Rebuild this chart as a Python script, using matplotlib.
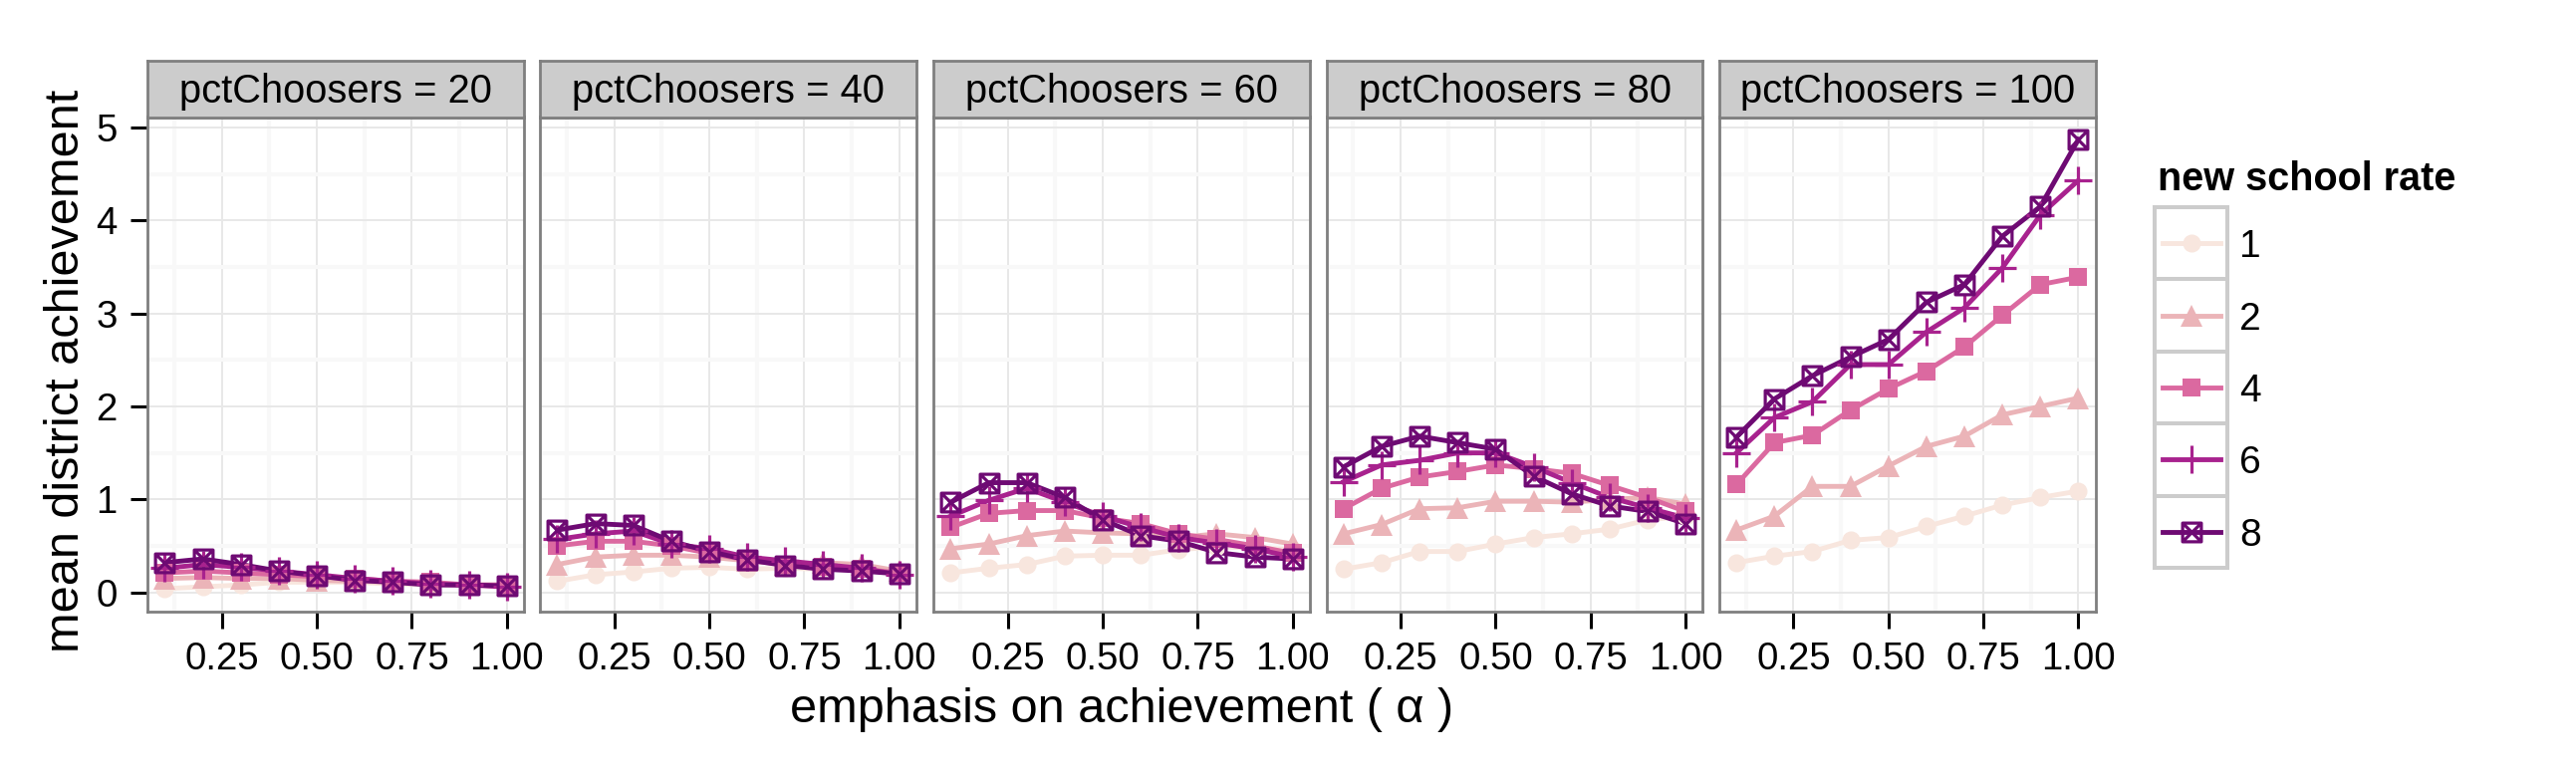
import matplotlib
matplotlib.use("Agg")
import matplotlib.pyplot as plt
from matplotlib.path import Path
from matplotlib.patches import Rectangle
from matplotlib.lines import Line2D
import numpy as np

plt.rcParams['font.family'] = ['Liberation Sans', 'DejaVu Sans']

# ---------------- data ----------------
alpha = [0.1, 0.2, 0.3, 0.4, 0.5, 0.6, 0.7, 0.8, 0.9, 1.0]
pct_choosers = [20, 40, 60, 80, 100]
rates = [1, 2, 4, 6, 8]

ach_pct20 = {
    1: [0.04, 0.06, 0.08, 0.11, 0.11, 0.11, 0.09, 0.08, 0.08, 0.06],
    2: [0.15, 0.16, 0.15, 0.15, 0.13, 0.12, 0.11, 0.09, 0.08, 0.08],
    4: [0.21, 0.23, 0.21, 0.19, 0.17, 0.15, 0.12, 0.11, 0.08, 0.08],
    6: [0.26, 0.30, 0.27, 0.23, 0.19, 0.15, 0.12, 0.09, 0.08, 0.06],
    8: [0.32, 0.36, 0.30, 0.23, 0.18, 0.13, 0.11, 0.08, 0.08, 0.07],
}
ach_pct40 = {
    1: [0.12, 0.19, 0.22, 0.26, 0.27, 0.25, 0.26, 0.25, 0.25, 0.21],
    2: [0.30, 0.38, 0.40, 0.40, 0.38, 0.34, 0.30, 0.32, 0.30, 0.23],
    4: [0.50, 0.55, 0.55, 0.50, 0.42, 0.35, 0.30, 0.27, 0.25, 0.21],
    6: [0.57, 0.63, 0.66, 0.52, 0.47, 0.38, 0.34, 0.30, 0.26, 0.19],
    8: [0.67, 0.74, 0.72, 0.55, 0.44, 0.35, 0.29, 0.25, 0.23, 0.20],
}
ach_pct60 = {
    1: [0.21, 0.26, 0.30, 0.39, 0.40, 0.40, 0.46, 0.49, 0.48, 0.46],
    2: [0.47, 0.52, 0.61, 0.66, 0.64, 0.63, 0.59, 0.63, 0.59, 0.52],
    4: [0.70, 0.85, 0.88, 0.88, 0.80, 0.74, 0.63, 0.57, 0.50, 0.42],
    6: [0.82, 0.99, 1.12, 0.97, 0.82, 0.70, 0.59, 0.53, 0.47, 0.38],
    8: [0.97, 1.18, 1.18, 1.02, 0.78, 0.61, 0.55, 0.43, 0.38, 0.36],
}
ach_pct80 = {
    1: [0.25, 0.32, 0.44, 0.44, 0.52, 0.59, 0.63, 0.68, 0.78, 0.82],
    2: [0.63, 0.73, 0.90, 0.91, 0.98, 0.98, 0.97, 1.00, 1.02, 0.95],
    4: [0.90, 1.12, 1.24, 1.30, 1.37, 1.33, 1.28, 1.15, 1.02, 0.87],
    6: [1.19, 1.37, 1.42, 1.50, 1.50, 1.35, 1.18, 1.02, 0.91, 0.80],
    8: [1.35, 1.57, 1.68, 1.61, 1.54, 1.25, 1.06, 0.93, 0.87, 0.74],
}
ach_pct100 = {
    1: [0.32, 0.39, 0.44, 0.56, 0.59, 0.71, 0.82, 0.94, 1.02, 1.09],
    2: [0.67, 0.82, 1.14, 1.14, 1.36, 1.57, 1.68, 1.91, 2.00, 2.09],
    4: [1.16, 1.61, 1.69, 1.96, 2.19, 2.38, 2.64, 2.98, 3.31, 3.39],
    6: [1.50, 1.88, 2.05, 2.45, 2.45, 2.80, 3.06, 3.49, 4.06, 4.43],
    8: [1.67, 2.08, 2.33, 2.53, 2.72, 3.12, 3.31, 3.83, 4.15, 4.87],
}
panel_data = [ach_pct20, ach_pct40, ach_pct60, ach_pct80, ach_pct100]

x_ticks = [0.25, 0.50, 0.75, 1.00]
x_tick_labels = ["0.25", "0.50", "0.75", "1.00"]
y_ticks = [0, 1, 2, 3, 4, 5]

# ---------------- styles ----------------
colors = {1: '#F8E6DE', 2: '#EBB4B8', 4: '#DB69A0', 6: '#A8228E', 8: '#6E0A73'}
boxx = Path([(-1, -1), (1, -1), (1, 1), (-1, 1), (-1, -1),
             (-1, -1), (1, 1), (-1, 1), (1, -1)],
            [Path.MOVETO, Path.LINETO, Path.LINETO, Path.LINETO, Path.CLOSEPOLY,
             Path.MOVETO, Path.LINETO, Path.MOVETO, Path.LINETO])
mstyle = {
    1: dict(marker='o', ms=13.0, mew=0),
    2: dict(marker='^', ms=16, mew=0),
    4: dict(marker='s', ms=12.5, mew=0),
    6: dict(marker='+', ms=19.5, mew=2.3),
    8: dict(marker=boxx, ms=13.5, mew=2.3, mfc='none'),
}
LW = 3.5

W, H = 2586, 780
fig = plt.figure(figsize=(W / 100, H / 100), dpi=100)


def px_axes(l, t, r, b):
    return fig.add_axes([l / W, 1 - b / H, (r - l) / W, (b - t) / H])


lefts = [148.3, 542.3, 937.3, 1331.7, 1726.0]
pw = 377.6
ptop, pbot = 117.5, 613.5
stop = 61.0

all_vals = np.concatenate([np.array(d[r]) for d in panel_data for r in rates])
ylo, yhi = all_vals.min(), all_vals.max()
ypad = 0.05 * (yhi - ylo)
xlo, xhi = min(alpha), max(alpha)
xpad = 0.05 * (xhi - xlo)

for i, (pct, d) in enumerate(zip(pct_choosers, panel_data)):
    l = lefts[i]
    ax = px_axes(l, ptop, l + pw, pbot)
    ax.set_xlim(xlo - xpad, xhi + xpad)
    ax.set_ylim(ylo - ypad, yhi + ypad)
    ax.set_xticks(x_ticks)
    ax.set_xticklabels(x_tick_labels)
    ax.set_xticks([0.125, 0.375, 0.625, 0.875], minor=True)
    ax.set_yticks(y_ticks)
    ax.set_yticks([0.5, 1.5, 2.5, 3.5, 4.5], minor=True)
    ax.grid(which='major', color='#E8E8E8', lw=1.4)
    ax.grid(which='minor', color='#F8F8F8', lw=2.9)
    ax.set_axisbelow(True)
    ax.tick_params(which='major', length=12.5, width=2.2, color='black',
                   labelsize=27.6, pad=9.5)
    ax.tick_params(which='minor', length=0)
    if i > 0:
        ax.tick_params(axis='y', which='both', left=False, labelleft=False)
    for s in ax.spines.values():
        s.set_color('#7F7F7F')
        s.set_linewidth(2.0)
        s.set_zorder(5)
    for r in rates:
        ax.plot(alpha, d[r], color=colors[r], lw=LW, zorder=2,
                solid_joinstyle='round')
    for r in rates:
        st = dict(mstyle[r])
        ax.plot(alpha, d[r], ls='none', color=colors[r], mec=colors[r],
                zorder=3, **st)

    sax = px_axes(l, stop, l + pw, ptop)
    sax.set_facecolor('#CCCCCC')
    sax.set_xticks([])
    sax.set_yticks([])
    for s in sax.spines.values():
        s.set_color('#7F7F7F')
        s.set_linewidth(2.0)
    sax.text(0.5, 0.25, f"pctChoosers = {pct}", ha='center', va='baseline',
             fontsize=28.7, transform=sax.transAxes)

# axis titles
fig.text(67 / W, 1 - 372 / H, "mean district achievement", rotation=90,
         ha='center', va='center', fontsize=35)
fig.text(1126 / W, 1 - 725 / H, "emphasis on achievement ( \u03b1 )",
         ha='center', va='baseline', fontsize=35)

# legend (drawn in pixel coordinates)
lax = fig.add_axes([0, 0, 1, 1])
lax.set_xlim(0, W)
lax.set_ylim(H, 0)
lax.axis('off')
lax.text(2166, 191, "new school rate", fontsize=28.5, fontweight='bold',
         ha='left', va='baseline')
key_top, key_h = 208.0, 72.4
kx0, kx1 = 2163, 2236
for j, r in enumerate(rates):
    y0 = key_top + j * key_h
    lax.add_patch(Rectangle((kx0, y0), kx1 - kx0, key_h, facecolor='white',
                            edgecolor='#CCCCCC', lw=2.9, zorder=1))
    yc = y0 + key_h / 2
    lax.add_line(Line2D([2171, 2229], [yc, yc], color=colors[r], lw=LW, zorder=2))
    st = dict(mstyle[r])
    lax.add_line(Line2D([2200], [yc], ls='none', color=colors[r], mec=colors[r],
                        zorder=3, **st))
    lax.text(2248, yc, str(r), fontsize=28, ha='left', va='center_baseline')

fig.savefig("out.png", dpi=100, facecolor='white')
